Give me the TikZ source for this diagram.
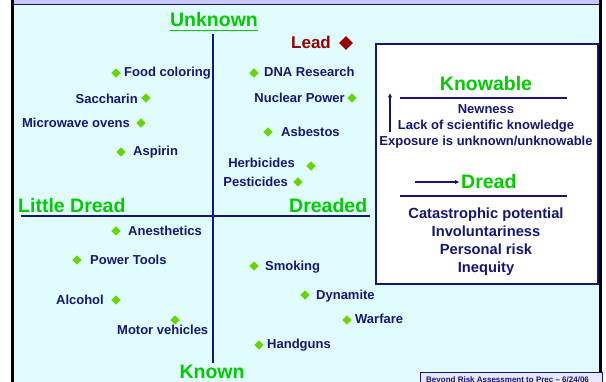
\documentclass[tikz,border=0pt]{standalone}
\usepackage{fontspec}
\setmainfont{Liberation Sans}
\usetikzlibrary{shapes.geometric,arrows.meta}
\definecolor{navy}{RGB}{22,22,120}
\definecolor{hgreen}{RGB}{0,204,0}
\definecolor{dgreen}{RGB}{102,214,0}
\definecolor{dred}{RGB}{153,0,0}
\definecolor{bgcyan}{RGB}{224,252,252}
\definecolor{lav}{RGB}{200,200,250}
\definecolor{footfill}{RGB}{232,232,252}
\begin{document}
\begin{tikzpicture}[x=1pt,y=-1pt,
  item/.style={font=\fontsize{13}{15}\bfseries\selectfont, text=navy, inner sep=0},
  boxtxt/.style={font=\fontsize{14.7}{17}\bfseries\selectfont, text=navy, inner sep=0, anchor=base},
  big/.style={font=\fontsize{19.5}{22}\bfseries\selectfont, text=hgreen, inner sep=0},
  dot/.style={diamond, fill=dgreen, inner sep=0, minimum width=9.5pt, minimum height=9.5pt},
  axis/.style={draw=navy, line width=2pt},
  rule/.style={draw=navy, line width=1.5pt},
  arr/.style={draw=navy, line width=1.6pt, -{Triangle[length=4pt,width=4pt]}}]
\useasboundingbox (0,0) rectangle (606,382);
% background
\fill[white] (0,0) rectangle (606,382);
\fill[bgcyan] (13,5) rectangle (599,382);
\fill[lav] (13,0) rectangle (599,4);
\draw[navy, line width=1.5pt] (13,4.6) -- (599,4.6);
\fill[black] (11,0) rectangle (13.5,382);
\fill[black] (599,0) rectangle (602,382);

% axes
\coordinate (vtop) at (213,34);
\coordinate (vbot) at (213,363);
\coordinate (hl) at (21,216);
\coordinate (hr) at (370,216);
\draw[axis] (vtop) -- (vbot);
\draw[axis] (hl) -- (hr);

% axis labels
\node[big, anchor=base] (unk) at (214,27) {Unknown};
\draw[hgreen, line width=1.3pt] ([yshift=-3.6pt]unk.base west) -- ([yshift=-3.6pt]unk.base east);
\node[big, anchor=base west] (little) at (18,213) {Little Dread};
\node[big, anchor=base west] (dreaded) at (289,213) {Dreaded};
\node[big, anchor=base] (known) at (212,378.5) {Known};

% Lead
\node[font=\fontsize{17}{20}\bfseries\selectfont, text=dred, inner sep=0, anchor=base west] (lead) at (291,48.5) {Lead};
\node[diamond, fill=dred, inner sep=0, minimum width=14pt, minimum height=14pt] (leadd) at (346,43) {};

% upper-left items
\node[dot] (d1) at (116,73) {};
\node[item, anchor=base west] (t1) at (124,77) {Food coloring};
\node[dot] (d2) at (146,98) {};
\node[item, anchor=base east] (t2) at (138,104) {Saccharin};
\node[dot] (d3) at (141,123) {};
\node[item, anchor=base east] (t3) at (130,127.5) {Microwave ovens};
\node[dot] (d4) at (121,152) {};
\node[item, anchor=base west] (t4) at (133,156) {Aspirin};

% upper-right items
\node[dot] (d5) at (254,73) {};
\node[item, anchor=base west] (t5) at (264,77) {DNA Research};
\node[dot] (d6) at (352,98) {};
\node[item, anchor=base east] (t6) at (345,102.5) {Nuclear Power};
\node[dot] (d7) at (268,132) {};
\node[item, anchor=base west] (t7) at (281,137) {Asbestos};
\node[dot] (d8) at (311,166) {};
\node[item, anchor=base east] (t8) at (295,168) {Herbicides};
\node[dot] (d9) at (298,182) {};
\node[item, anchor=base east] (t9) at (288,186.5) {Pesticides};

% lower-left items
\node[dot] (d10) at (116,231) {};
\node[item, anchor=base west] (t10) at (128,235.5) {Anesthetics};
\node[dot] (d11) at (77,260) {};
\node[item, anchor=base west] (t11) at (90,264.5) {Power Tools};
\node[dot] (d12) at (116,300) {};
\node[item, anchor=base east] (t12) at (104,305) {Alcohol};
\node[dot] (d13) at (175,320) {};
\node[item, anchor=base west] (t13) at (117,335) {Motor vehicles};

% lower-right items
\node[dot] (d14) at (254,266) {};
\node[item, anchor=base west] (t14) at (265,270.5) {Smoking};
\node[dot] (d15) at (305,295) {};
\node[item, anchor=base west] (t15) at (316,300) {Dynamite};
\node[dot] (d16) at (347,320) {};
\node[item, anchor=base west] (t16) at (355,323.5) {Warfare};
\node[dot] (d17) at (259,345) {};
\node[item, anchor=base west] (t17) at (267,349) {Handguns};

% legend box
\node[draw=navy, line width=2pt, fill=white, minimum width=222pt, minimum height=240pt, inner sep=0] (box) at (486.5,164) {};
\node[big, anchor=base] (knowable) at (486,91) {Knowable};
\coordinate (r1l) at (400,98);
\coordinate (r1r) at (567,98);
\draw[rule] (r1l) -- (r1r);
\coordinate (ua0) at (390,132);
\coordinate (ua1) at (390,93.5);
\draw[arr] (ua0) -- (ua1);
\node[item, anchor=base] (newness) at (486,113.5) {Newness};
\node[item, anchor=base] (lack) at (486,129.5) {Lack of scientific knowledge};
\node[item, anchor=base] (expo) at (486,145.5) {Exposure is unknown/unknowable};
\coordinate (da0) at (415,182);
\coordinate (da1) at (459,182);
\draw[arr] (da0) -- (da1);
\node[big, anchor=base west] (dread) at (461,189) {Dread};
\coordinate (r2l) at (400,196);
\coordinate (r2r) at (567,196);
\draw[rule] (r2l) -- (r2r);
\node[boxtxt] (cat) at (486,219) {Catastrophic potential};
\node[boxtxt] (inv) at (486,237) {Involuntariness};
\node[boxtxt] (pers) at (486,254.5) {Personal risk};
\node[boxtxt] (ineq) at (486,272.3) {Inequity};

% footer
\node[draw=navy, line width=1pt, fill=footfill, anchor=north west, minimum width=182pt, minimum height=20pt, inner sep=0] (foot) at (419.5,372.5) {};
\node[font=\fontsize{8}{9}\bfseries\selectfont, text=navy, inner sep=0, anchor=base west] (foottxt) at (426,382.5) {Beyond Risk Assessment to Prec -- 6/24/06};
\end{tikzpicture}
\end{document}
